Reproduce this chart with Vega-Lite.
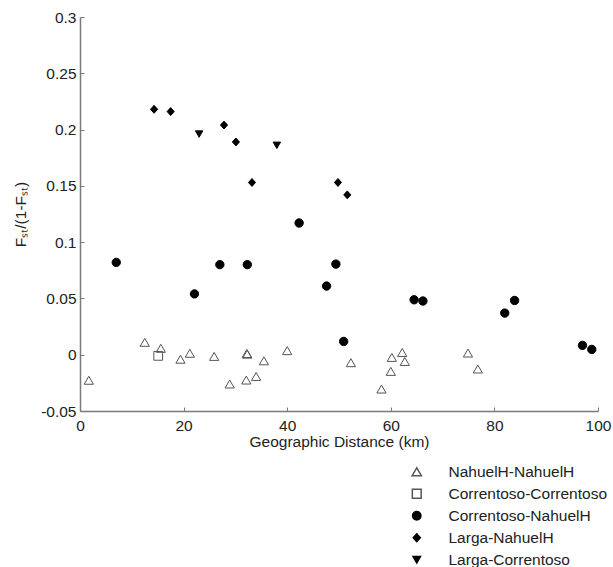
{
  "$schema": "https://vega.github.io/schema/vega-lite/v6.json",
  "width": 518,
  "height": 394,
  "autosize": {"type": "none"},
  "padding": {"left": 80, "top": 17, "right": 15, "bottom": 156},
  "background": "white",
  "config": {
    "view": {"stroke": null},
    "font": "Liberation Sans",
    "axis": {
      "grid": false,
      "domainColor": "#7a7a7a",
      "domainWidth": 1.5,
      "tickColor": "#7a7a7a",
      "tickWidth": 1,
      "tickSize": -4,
      "labelColor": "#222222",
      "labelFont": "Liberation Sans",
      "labelFontSize": 15.5,
      "titleFont": "Liberation Sans",
      "titleFontSize": 15.5,
      "titleFontWeight": "normal",
      "titleColor": "#222222"
    },
    "legend": {
      "orient": "none",
      "legendX": 329,
      "legendY": 447,
      "title": null,
      "labelFont": "Liberation Sans",
      "labelColor": "#222222",
      "labelFontSize": 15.5,
      "labelOffset": 24,
      "rowPadding": 5,
      "padding": 0
    }
  },
  "data": {
    "values": [
      {"d": 1.7, "f": -0.0227, "pair": "NahuelH-NahuelH"},
      {"d": 12.5, "f": 0.011, "pair": "NahuelH-NahuelH"},
      {"d": 15.6, "f": 0.0057, "pair": "NahuelH-NahuelH"},
      {"d": 19.4, "f": -0.004, "pair": "NahuelH-NahuelH"},
      {"d": 21.2, "f": 0.0013, "pair": "NahuelH-NahuelH"},
      {"d": 25.9, "f": -0.0015, "pair": "NahuelH-NahuelH"},
      {"d": 28.9, "f": -0.026, "pair": "NahuelH-NahuelH"},
      {"d": 32.2, "f": 0.0011, "pair": "NahuelH-NahuelH"},
      {"d": 32.3, "f": 0.0005, "pair": "NahuelH-NahuelH"},
      {"d": 32.1, "f": -0.0225, "pair": "NahuelH-NahuelH"},
      {"d": 34.0, "f": -0.0193, "pair": "NahuelH-NahuelH"},
      {"d": 35.5, "f": -0.0054, "pair": "NahuelH-NahuelH"},
      {"d": 40.0, "f": 0.0036, "pair": "NahuelH-NahuelH"},
      {"d": 52.3, "f": -0.0071, "pair": "NahuelH-NahuelH"},
      {"d": 58.2, "f": -0.0305, "pair": "NahuelH-NahuelH"},
      {"d": 60.0, "f": -0.0148, "pair": "NahuelH-NahuelH"},
      {"d": 60.2, "f": -0.0024, "pair": "NahuelH-NahuelH"},
      {"d": 62.2, "f": 0.002, "pair": "NahuelH-NahuelH"},
      {"d": 62.7, "f": -0.006, "pair": "NahuelH-NahuelH"},
      {"d": 74.9, "f": 0.0015, "pair": "NahuelH-NahuelH"},
      {"d": 76.8, "f": -0.0127, "pair": "NahuelH-NahuelH"},
      {"d": 15.1, "f": -0.001, "pair": "Correntoso-Correntoso"},
      {"d": 7.0, "f": 0.082, "pair": "Correntoso-NahuelH"},
      {"d": 22.1, "f": 0.054, "pair": "Correntoso-NahuelH"},
      {"d": 27.0, "f": 0.080, "pair": "Correntoso-NahuelH"},
      {"d": 32.3, "f": 0.080, "pair": "Correntoso-NahuelH"},
      {"d": 42.3, "f": 0.117, "pair": "Correntoso-NahuelH"},
      {"d": 47.6, "f": 0.061, "pair": "Correntoso-NahuelH"},
      {"d": 49.4, "f": 0.0805, "pair": "Correntoso-NahuelH"},
      {"d": 50.9, "f": 0.0118, "pair": "Correntoso-NahuelH"},
      {"d": 64.5, "f": 0.0488, "pair": "Correntoso-NahuelH"},
      {"d": 66.2, "f": 0.0477, "pair": "Correntoso-NahuelH"},
      {"d": 82.0, "f": 0.037, "pair": "Correntoso-NahuelH"},
      {"d": 83.9, "f": 0.0482, "pair": "Correntoso-NahuelH"},
      {"d": 97.0, "f": 0.0083, "pair": "Correntoso-NahuelH"},
      {"d": 98.8, "f": 0.0047, "pair": "Correntoso-NahuelH"},
      {"d": 14.3, "f": 0.218, "pair": "Larga-NahuelH"},
      {"d": 17.5, "f": 0.216, "pair": "Larga-NahuelH"},
      {"d": 27.8, "f": 0.204, "pair": "Larga-NahuelH"},
      {"d": 30.1, "f": 0.189, "pair": "Larga-NahuelH"},
      {"d": 33.2, "f": 0.153, "pair": "Larga-NahuelH"},
      {"d": 49.8, "f": 0.153, "pair": "Larga-NahuelH"},
      {"d": 51.6, "f": 0.142, "pair": "Larga-NahuelH"},
      {"d": 23.0, "f": 0.196, "pair": "Larga-Correntoso"},
      {"d": 38.0, "f": 0.186, "pair": "Larga-Correntoso"}
    ]
  },
  "mark": {"type": "point", "filled": true, "strokeWidth": 1, "opacity": 1},
  "encoding": {
    "x": {
      "field": "d",
      "type": "quantitative",
      "scale": {"domain": [0, 100], "nice": false},
      "axis": {
        "values": [0, 20, 40, 60, 80, 100],
        "title": "Geographic Distance (km)",
        "labelPadding": 11,
        "titlePadding": 1,
        "labelFlush": false
      }
    },
    "y": {
      "field": "f",
      "type": "quantitative",
      "scale": {"domain": [-0.05, 0.3], "nice": false, "zero": false},
      "axis": {
        "values": [-0.05, 0, 0.05, 0.1, 0.15, 0.2, 0.25, 0.3],
        "labelExpr": "'' + datum.value",
        "title": "Fₛₜ/(1-Fₛₜ)",
        "labelPadding": 8,
        "titlePadding": 12,
        "labelFlush": false
      }
    },
    "size": {
      "field": "pair",
      "type": "nominal",
      "scale": {
        "domain": ["NahuelH-NahuelH", "Correntoso-Correntoso", "Correntoso-NahuelH", "Larga-NahuelH", "Larga-Correntoso"],
        "range": [85, 55, 85, 115, 80]
      }
    },
    "shape": {
      "field": "pair",
      "type": "nominal",
      "scale": {
        "domain": ["NahuelH-NahuelH", "Correntoso-Correntoso", "Correntoso-NahuelH", "Larga-NahuelH", "Larga-Correntoso"],
        "range": ["triangle-up", "square", "circle", "M0,-1L0.9,0L0,1L-0.9,0Z", "triangle-down"]
      }
    },
    "fill": {
      "field": "pair",
      "type": "nominal",
      "scale": {
        "domain": ["NahuelH-NahuelH", "Correntoso-Correntoso", "Correntoso-NahuelH", "Larga-NahuelH", "Larga-Correntoso"],
        "range": ["transparent", "transparent", "#000000", "#000000", "#000000"]
      }
    },
    "stroke": {
      "field": "pair",
      "type": "nominal",
      "scale": {
        "domain": ["NahuelH-NahuelH", "Correntoso-Correntoso", "Correntoso-NahuelH", "Larga-NahuelH", "Larga-Correntoso"],
        "range": ["#555555", "#555555", "#000000", "#000000", "#000000"]
      }
    }
  }
}
